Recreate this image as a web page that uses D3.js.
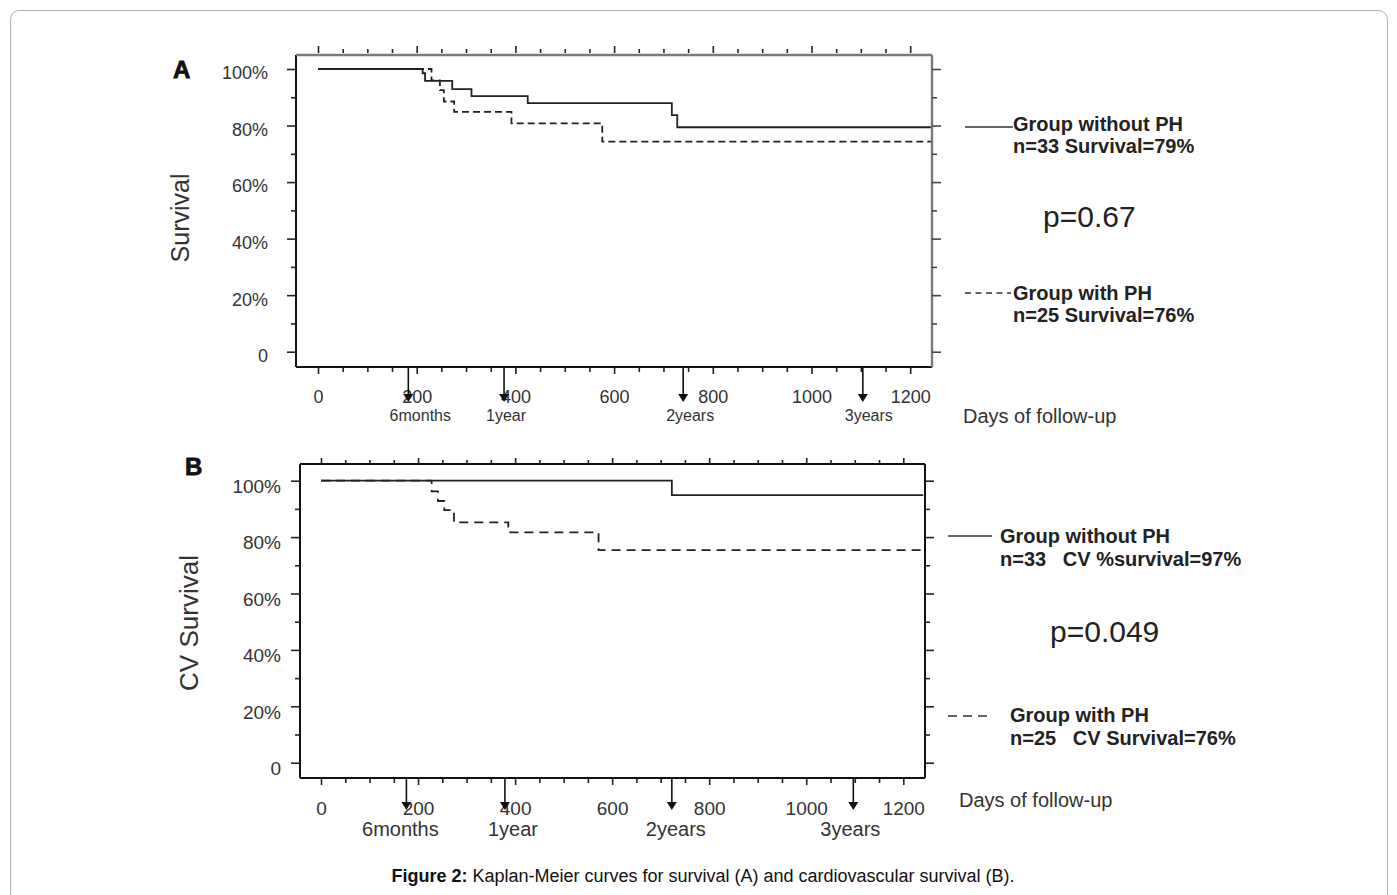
<!DOCTYPE html>
<html>
<head>
<meta charset="utf-8">
<script src="https://cdn.jsdelivr.net/npm/d3@7"></script>
<style>
  html, body { margin: 0; padding: 0; background: #fff; }
  svg text { font-family: "Liberation Sans", Arial, sans-serif; }
</style>
</head>
<body>
<svg id="chart" width="1397" height="895"></svg>
<script>
// ---------------- DATA ----------------
const dayTicks = [0, 200, 400, 600, 800, 1000, 1200];
const dayMinorTicks = [50, 100, 150, 250, 300, 350, 450, 500, 550, 650, 700, 750, 850, 900, 950, 1050, 1100, 1150];
const pctTicks = [0, 20, 40, 60, 80, 100];
const pctMinorTicks = [10, 30, 50, 70, 90];
const pctLabels = ["0", "20%", "40%", "60%", "80%", "100%"];

const milestoneLabels = ["6months", "1year", "2years", "3years"];
const milestoneDaysA = [183, 377, 740, 1104];
const milestoneDaysB = [176, 379, 723, 1097];

// Panel A: overall survival (step curves)
const survNoPHDays = [0, 212, 217, 272, 311, 425, 717, 728, 1244];
const survNoPHVals = [100, 98.5, 95.8, 92.9, 90.4, 87.9, 83.7, 79.4, 79.4];
const survPHDays = [0, 230, 247, 255, 276, 392, 576, 1244];
const survPHVals = [100, 96, 92.5, 88.5, 84.8, 80.8, 74.3, 74.3];

// Panel B: cardiovascular survival (step curves)
const cvNoPHDays = [0, 723, 1241];
const cvNoPHVals = [100, 94.9, 94.9];
const cvPHDays = [0, 228, 241, 254, 274, 386, 572, 1241];
const cvPHVals = [100, 96.2, 92.8, 89.6, 85.2, 81.7, 75.4, 75.4];

// ---------------- DRAW ----------------
const svg = d3.select("#chart");

// card border
svg.append("rect").attr("x", 10.5).attr("y", 10.5).attr("width", 1377).attr("height", 910)
  .attr("rx", 9).attr("fill", "none").attr("stroke", "#b0b0b0").attr("stroke-width", 1);

function panel(cfg) {
  const g = svg.append("g");
  const x = d3.scaleLinear().domain([0, 1200]).range(cfg.xr);
  const y = d3.scaleLinear().domain([0, 100]).range(cfg.yr);
  const F = cfg.frame; // left, right, top, bottom

  // curves
  const line = d3.line().x(d => x(d[0])).y(d => y(d[1])).curve(d3.curveStepAfter);
  const noPH = cfg.noPHDays.map((d, i) => [d, cfg.noPHVals[i]]);
  const PH = cfg.PHDays.map((d, i) => [d, cfg.PHVals[i]]);
  g.append("path").attr("d", line(noPH)).attr("fill", "none")
    .attr("stroke", "#222").attr("stroke-width", 1.8);
  g.append("path").attr("d", line(PH)).attr("fill", "none")
    .attr("stroke", "#222").attr("stroke-width", 1.8).attr("stroke-dasharray", cfg.dash);

  // frame
  g.append("line").attr("x1", F[0]).attr("x2", F[0]).attr("y1", F[2]).attr("y2", F[3])
    .attr("stroke", "#111").attr("stroke-width", 2);
  g.append("line").attr("x1", F[0]).attr("x2", F[1]).attr("y1", F[3]).attr("y2", F[3])
    .attr("stroke", "#111").attr("stroke-width", 2);
  g.append("line").attr("x1", F[0]).attr("x2", F[1]).attr("y1", F[2]).attr("y2", F[2])
    .attr("stroke", cfg.topColor).attr("stroke-width", cfg.topW);
  g.append("line").attr("x1", F[1]).attr("x2", F[1]).attr("y1", F[2]).attr("y2", F[3])
    .attr("stroke", cfg.topColor).attr("stroke-width", cfg.topW);

  function tickStyle(sel, color) {
    sel.select(".domain").remove();
    sel.selectAll(".tick line").attr("stroke", color || "#222").attr("stroke-width", 1.6);
  }

  // left axis (major with labels)
  const left = g.append("g").attr("transform", `translate(${F[0]},0)`)
    .call(d3.axisLeft(y).tickValues(pctTicks).tickSize(9).tickPadding(cfg.leftPad)
      .tickFormat((d, i) => pctLabels[i]));
  tickStyle(left);
  left.selectAll(".tick text").attr("font-size", cfg.tickFont).attr("fill", "#333")
    .attr("font-family", "Liberation Sans, Arial, sans-serif").attr("dy", cfg.leftDy);
  const leftMin = g.append("g").attr("transform", `translate(${F[0]},0)`)
    .call(d3.axisLeft(y).tickValues(pctMinorTicks).tickSize(5).tickFormat(""));
  tickStyle(leftMin);

  // right axis ticks
  const right = g.append("g").attr("transform", `translate(${F[1]},0)`)
    .call(d3.axisRight(y).tickValues(pctTicks).tickSize(9).tickFormat(""));
  tickStyle(right, cfg.rightTickColor);
  const rightMin = g.append("g").attr("transform", `translate(${F[1]},0)`)
    .call(d3.axisRight(y).tickValues(pctMinorTicks).tickSize(5).tickFormat(""));
  tickStyle(rightMin, cfg.rightTickColor);

  // bottom axis
  const bottom = g.append("g").attr("transform", `translate(0,${F[3] + 1})`)
    .call(d3.axisBottom(x).tickValues(dayTicks).tickSize(6).tickPadding(cfg.bottomPad)
      .tickFormat(d3.format("d")));
  tickStyle(bottom);
  bottom.selectAll(".tick text").attr("font-size", cfg.tickFont).attr("fill", "#333")
    .attr("font-family", "Liberation Sans, Arial, sans-serif");
  const bottomMin = g.append("g").attr("transform", `translate(0,${F[3] + 1})`)
    .call(d3.axisBottom(x).tickValues(dayMinorTicks).tickSize(4).tickFormat(""));
  tickStyle(bottomMin);

  // top axis ticks
  const top = g.append("g").attr("transform", `translate(0,${cfg.topTickY})`)
    .call(d3.axisTop(x).tickValues(dayTicks).tickSize(cfg.topMajor).tickFormat(""));
  tickStyle(top);
  const topMin = g.append("g").attr("transform", `translate(0,${cfg.topTickY})`)
    .call(d3.axisTop(x).tickValues(dayMinorTicks).tickSize(cfg.topMinor).tickFormat(""));
  tickStyle(topMin);

  // milestone arrows
  cfg.milestones.forEach((d, i) => {
    const xx = x(d);
    g.append("line").attr("x1", xx).attr("x2", xx).attr("y1", F[3]).attr("y2", cfg.arrowTip - 6)
      .attr("stroke", "#111").attr("stroke-width", 1.6);
    g.append("path")
      .attr("d", `M${xx - 5},${cfg.arrowTip - 8}L${xx + 5},${cfg.arrowTip - 8}L${xx},${cfg.arrowTip}Z`)
      .attr("fill", "#111");
    g.append("text").attr("x", xx + cfg.msOffset[i]).attr("y", cfg.msY)
      .attr("text-anchor", "middle").attr("font-size", cfg.msFont).attr("fill", "#333")
      .text(milestoneLabels[i]);
  });

  // panel letter
  g.append("text").attr("x", cfg.letterX).attr("y", cfg.letterY)
    .attr("font-size", 24).attr("font-weight", "bold").attr("fill", "#111")
    .attr("stroke", "#111").attr("stroke-width", 0.8).text(cfg.letter);

  // y title
  g.append("text").attr("transform", `translate(${cfg.yTitleX},${cfg.yTitleY}) rotate(-90)`)
    .attr("text-anchor", "middle").attr("dominant-baseline", "central")
    .attr("font-size", cfg.yTitleFont).attr("fill", "#333").text(cfg.yTitle);

  // x title
  g.append("text").attr("x", cfg.xTitleX).attr("y", cfg.xTitleY)
    .attr("font-size", 20).attr("fill", "#333").text("Days of follow-up");

  // legend
  const L = cfg.legend;
  g.append("line").attr("x1", L.solid[0]).attr("x2", L.solid[1]).attr("y1", L.solid[2]).attr("y2", L.solid[2])
    .attr("stroke", "#333").attr("stroke-width", 1.6);
  g.append("line").attr("x1", L.dashed[0]).attr("x2", L.dashed[1]).attr("y1", L.dashed[2]).attr("y2", L.dashed[2])
    .attr("stroke", "#333").attr("stroke-width", 1.6).attr("stroke-dasharray", cfg.legendDash);
  L.texts.forEach(t => {
    g.append("text").attr("x", t[0]).attr("y", t[1])
      .attr("font-size", t[3]).attr("font-weight", t[4]).attr("fill", "#222")
      .style("white-space", "pre").text(t[2]);
  });
}

panel({
  xr: [318, 910.2], yr: [351.7, 69],
  frame: [296, 932, 55, 367],
  noPHDays: survNoPHDays, noPHVals: survNoPHVals,
  PHDays: survPHDays, PHVals: survPHVals,
  dash: "7,4", legendDash: "6,4.5",
  topColor: "#7a7a7a", topW: 2.4, rightTickColor: "#444",
  leftPad: 19, leftDy: "0.55em", tickFont: 18, bottomPad: 16,
  topTickY: 53, topMajor: 7, topMinor: 4,
  milestones: milestoneDaysA, msOffset: [12, 2, 7, 6], msY: 421, msFont: 16, arrowTip: 402,
  letter: "A", letterX: 173, letterY: 78,
  yTitle: "Survival", yTitleX: 180, yTitleY: 218, yTitleFont: 25,
  xTitleX: 963, xTitleY: 423,
  legend: {
    solid: [965, 1013, 127], dashed: [965, 1011, 293],
    texts: [
      [1013, 131, "Group without PH", 20, "bold"],
      [1013, 153, "n=33 Survival=79%", 20, "bold"],
      [1043, 227, "p=0.67", 30, "normal"],
      [1013, 300, "Group with PH", 20, "bold"],
      [1013, 322, "n=25 Survival=76%", 20, "bold"]
    ]
  }
});

panel({
  xr: [321, 903.3], yr: [762.7, 480.7],
  frame: [300, 925, 464, 778],
  noPHDays: cvNoPHDays, noPHVals: cvNoPHVals,
  PHDays: cvPHDays, PHVals: cvPHVals,
  dash: "9,6", legendDash: "9,6",
  topColor: "#111", topW: 2, rightTickColor: "#222",
  leftPad: 10, leftDy: "0.62em", tickFont: 19, bottomPad: 17,
  topTickY: 464, topMajor: 6, topMinor: 4,
  milestones: milestoneDaysB, msOffset: [-6, 8, 4, -3], msY: 836, msFont: 20, arrowTip: 810,
  letter: "B", letterX: 185, letterY: 475,
  yTitle: "CV Survival", yTitleX: 189, yTitleY: 623, yTitleFont: 26,
  xTitleX: 959, xTitleY: 807,
  legend: {
    solid: [948, 992, 536], dashed: [948, 990, 716],
    texts: [
      [1000, 543, "Group without PH", 20, "bold"],
      [1000, 566, "n=33   CV %survival=97%", 20, "bold"],
      [1050, 642, "p=0.049", 30, "normal"],
      [1010, 722, "Group with PH", 20, "bold"],
      [1010, 745, "n=25   CV Survival=76%", 20, "bold"]
    ]
  }
});

// caption
const cap = svg.append("text").attr("x", 703).attr("y", 882).attr("text-anchor", "middle")
  .attr("font-size", 18).attr("fill", "#111");
cap.append("tspan").attr("font-weight", "bold").text("Figure 2:");
cap.append("tspan").text(" Kaplan-Meier curves for survival (A) and cardiovascular survival (B).");
</script>
</body>
</html>
